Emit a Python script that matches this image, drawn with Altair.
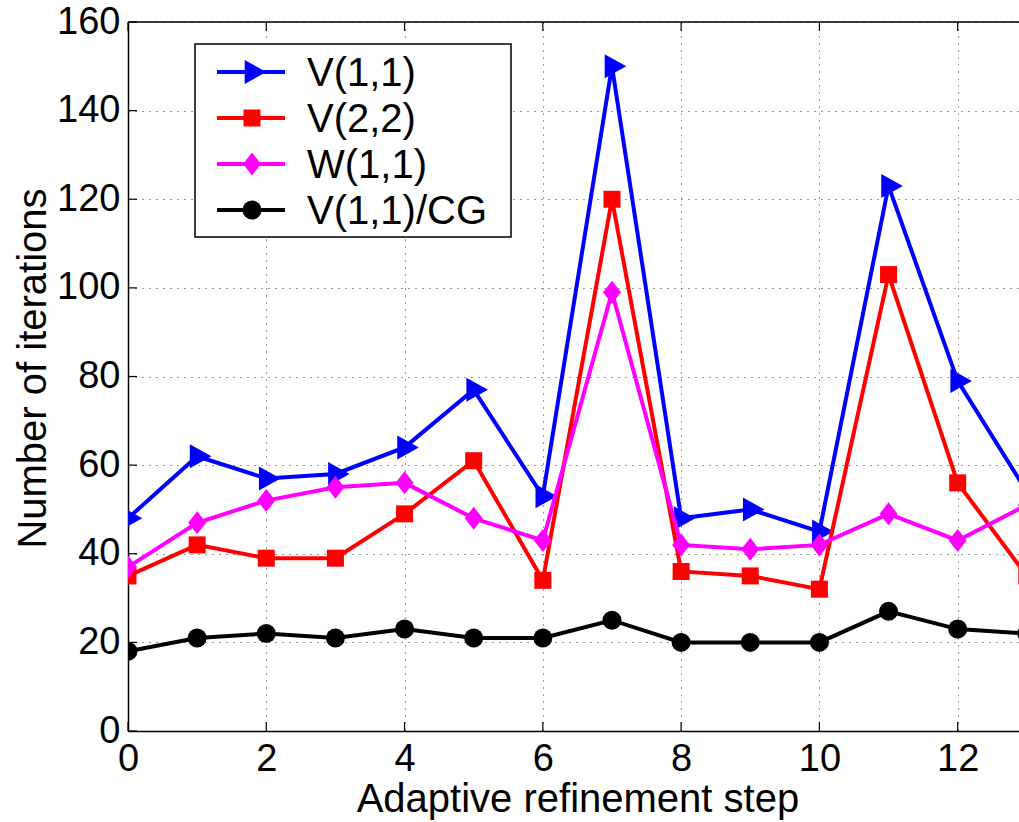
import altair as alt
import pandas as pd

# ---- data ----
steps = list(range(14))
series_names = ["V(1,1)", "V(2,2)", "W(1,1)", "V(1,1)/CG"]
v11 = [48, 62, 57, 58, 64, 77, 53, 150, 48, 50, 45, 123, 79, 54]
v22 = [35, 42, 39, 39, 49, 61, 34, 120, 36, 35, 32, 103, 56, 35]
w11 = [37, 47, 52, 55, 56, 48, 43, 99, 42, 41, 42, 49, 43, 51]
cg = [18, 21, 22, 21, 23, 21, 21, 25, 20, 20, 20, 27, 23, 22]
x_ticks = [0, 2, 4, 6, 8, 10, 12]
y_ticks = [0, 20, 40, 60, 80, 100, 120, 140, 160]

colors = ["#0000ff", "#ff0000", "#ff00ff", "#000000"]
shapes = [
    "M-0.61,-1L1.19,0L-0.61,1Z",   # right triangle
    "square",
    "M-0.78,0L0,-1L0.78,0L0,1Z",   # diamond
    "circle",
]
sizes = [576, 289, 529, 361]

rows = []
for name, vals in zip(series_names, [v11, v22, w11, cg]):
    for s, v in zip(steps, vals):
        rows.append({"step": s, "value": v, "series": name})
df = pd.DataFrame(rows)

W, H = 891, 709
PX_PER_STEP = 69.14
FONT = "Liberation Sans"

xs = alt.Scale(domain=[0, W / PX_PER_STEP], nice=False, zero=False)
ys = alt.Scale(domain=[0, 160], nice=False)

X = alt.X("step:Q", scale=xs, axis=alt.Axis(
    values=x_ticks, title="Adaptive refinement step", labelFlush=False,
    labelBaseline="alphabetic", labelPadding=39, labelOverlap=False,
    titleX=6.5 * PX_PER_STEP, titleY=80, titleBaseline="alphabetic",
    titleAlign="center"))
Y = alt.Y("value:Q", scale=ys, axis=alt.Axis(
    values=y_ticks, title="Number of iterations", labelFlush=False,
    labelPadding=8, labelOverlap=False,
    titleX=-83, titleY=346, titleBaseline="alphabetic", titleAlign="center"))

layers = []
for name, col, shp, sz in zip(series_names, colors, shapes, sizes):
    base = alt.Chart(df).transform_filter(alt.datum.series == name)
    layers.append(base.mark_line(color=col, strokeWidth=4, clip=True).encode(x=X, y=Y))
    layers.append(base.mark_point(color=col, shape=shp, size=sz, filled=True,
                                  opacity=1, clip=True).encode(x=X, y=Y))

# inward tick marks (MATLAB style)
xt_df = pd.DataFrame({"step": x_ticks})
yt_df = pd.DataFrame({"value": y_ticks})
layers.append(alt.Chart(xt_df).mark_rule(color="black", strokeWidth=1.2).encode(
    x=X, y=alt.value(H), y2=alt.value(H - 9)))
layers.append(alt.Chart(xt_df).mark_rule(color="black", strokeWidth=1.2).encode(
    x=X, y=alt.value(0), y2=alt.value(9)))
layers.append(alt.Chart(yt_df).mark_rule(color="black", strokeWidth=1.2).encode(
    y=Y, x=alt.value(0), x2=alt.value(9)))
# top frame line
one = pd.DataFrame({"a": [0]})
layers.append(alt.Chart(one).mark_rule(color="black", strokeWidth=1.5).encode(
    x=alt.value(0), x2=alt.value(W), y=alt.value(0)))

# legend
layers.append(alt.Chart(one).mark_rect(fill="white", stroke="black", strokeWidth=1.5).encode(
    x=alt.value(67), x2=alt.value(383), y=alt.value(22), y2=alt.value(215)))
row_y = [50, 96, 142, 188]
for name, col, shp, sz, yy in zip(series_names, colors, shapes, sizes, row_y):
    ldf = pd.DataFrame({"label": [name]})
    layers.append(alt.Chart(ldf).mark_rule(color=col, strokeWidth=4).encode(
        x=alt.value(89), x2=alt.value(157), y=alt.value(yy)))
    layers.append(alt.Chart(ldf).mark_point(color=col, shape=shp, size=sz, filled=True,
                                            opacity=1).encode(
        x=alt.value(124), y=alt.value(yy)))
    layers.append(alt.Chart(ldf).mark_text(align="left", baseline="middle", font=FONT,
                                           fontSize=40, color="black").encode(
        x=alt.value(179), y=alt.value(yy + 2), text="label:N"))

chart = alt.layer(*layers).properties(
    width=W, height=H,
    autosize=alt.AutoSizeParams(type="none"),
    padding={"left": 128, "top": 22, "right": 0, "bottom": 91},
    background="white",
).configure_view(stroke=None).configure_axis(
    domainColor="black", domainWidth=1.5, ticks=False, tickSize=0,
    grid=True, gridColor="#333333", gridDash=[1, 6], gridWidth=1,
    labelFont=FONT, labelFontSize=38, labelColor="black",
    titleFont=FONT, titleFontSize=40, titleFontWeight="normal", titleColor="black",
)

chart.save("out.html", embed_options={"renderer": "svg", "actions": False})
